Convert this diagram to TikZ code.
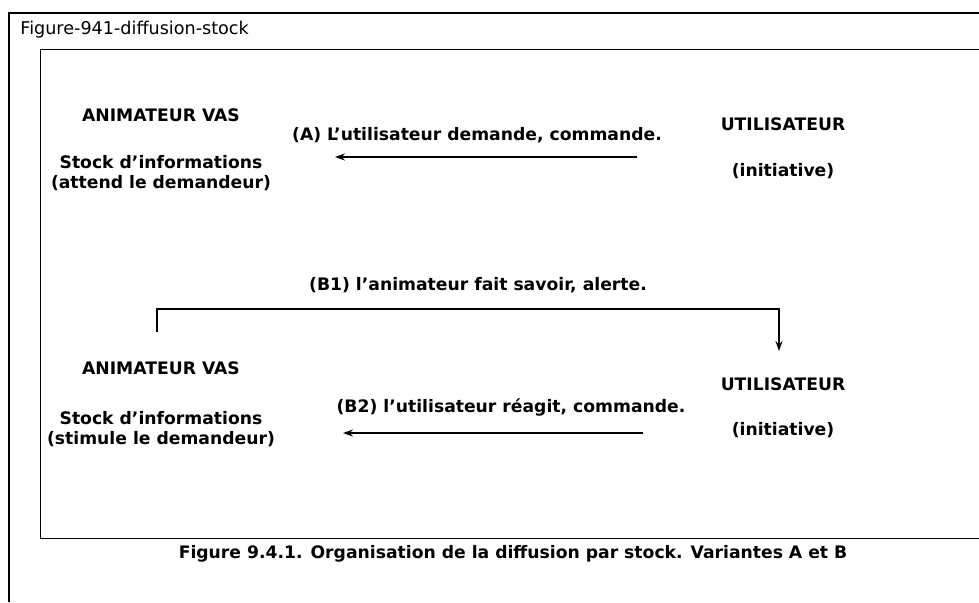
\documentclass[tikz,border=0pt]{standalone}
\usepackage{fontspec}
\setmainfont{DejaVu Sans}
\usepackage{tikz}
\usetikzlibrary{positioning,arrows.meta}
\tikzset{lbl/.style={font=\fontsize{8.6}{10.3}\selectfont\bfseries,inner sep=0pt,align=center},
  flow/.style={line width=1pt,-{Stealth[length=5pt,width=3.5pt]}}}

\begin{document}
\begin{tikzpicture}[x=0.5pt,y=-0.5pt]
    \useasboundingbox (0,0) rectangle (979,602);
    % frames
    \draw [line width=1pt] (9,602) -- (9,13) -- (979,13);
    \draw [line width=0.5pt] (979,49) -- (40,49) -- (40,538) -- (979,538);
    \node[font=\fontsize{8.8}{10}\selectfont,anchor=west,inner sep=0pt] (title) at (20,30) {Figure-941-diffusion-stock};

    % variante A
    \node[lbl] (anim1) at (161,115) {ANIMATEUR VAS};
    \node[lbl] (stock1) at (161,173) {Stock d'informations\\(attend le demandeur)};
    \node[lbl] (util1) at (783,124) {UTILISATEUR};
    \node[lbl] (init1) at (783,171) {(initiative)};
    \node[lbl] (la) at (477,135) {(A) L'utilisateur demande, commande.};
    \coordinate (a1) at (637,157);
    \coordinate (a2) at (335,157);

    % variante B
    \node[lbl] (lb1) at (478,285) {(B1) l'animateur fait savoir, alerte.};
    \coordinate (b1s) at (157,332);
    \coordinate (b1e) at (779,351);
    \node[lbl] (anim2) at (161,368) {ANIMATEUR VAS};
    \node[lbl] (stock2) at (161,429) {Stock d'informations\\(stimule le demandeur)};
    \node[lbl] (util2) at (783,384) {UTILISATEUR};
    \node[lbl] (init2) at (783,430) {(initiative)};
    \node[lbl] (lb2) at (511,407) {(B2) l'utilisateur réagit, commande.};
    \coordinate (b2a) at (643,433);
    \coordinate (b2b) at (343,433);

    \draw [flow] (a1) to (a2);
    \draw [line width=0.75pt,-{Stealth[length=5pt,width=3.5pt]}] (b1s) -- ++(0,-23) -| (b1e);
    \draw [flow] (b2a) to (b2b);

    \node[lbl] (cap) at (513,554) {Figure 9.4.1. Organisation de la diffusion par stock. Variantes A et B};
\end{tikzpicture}
\end{document}
